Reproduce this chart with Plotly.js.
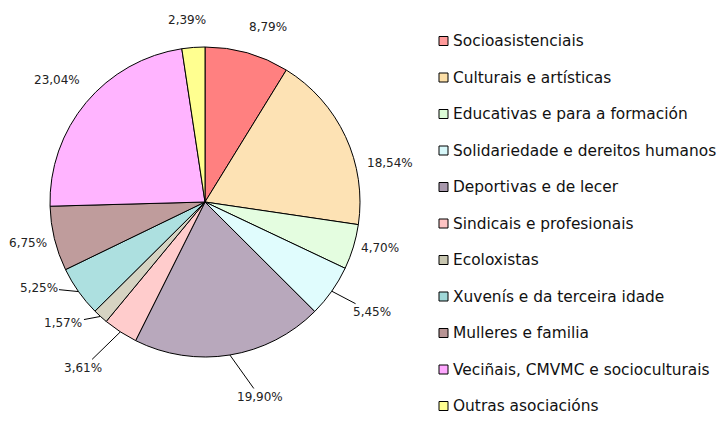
<!DOCTYPE html>
<html>
<head>
<meta charset="utf-8">
<script src="https://cdn.plot.ly/plotly-3.0.1.min.js"></script>
<style>html,body{margin:0;padding:0;background:#fff;}#chart{width:720px;height:421px;}</style>
</head>
<body>
<div id="chart"></div>
<script>
const categories = [
  "Socioasistenciais",
  "Culturais e artísticas",
  "Educativas e para a formación",
  "Solidariedade e dereitos humanos",
  "Deportivas e de lecer",
  "Sindicais e profesionais",
  "Ecoloxistas",
  "Xuvenís e da terceira idade",
  "Mulleres e familia",
  "Veciñais, CMVMC e socioculturais",
  "Outras asociacións"
];
const shares = [8.79, 18.54, 4.70, 5.45, 19.90, 3.61, 1.57, 5.25, 6.75, 23.04, 2.39];

// styling (not data)
const sliceColors = ["#ff8080", "#fde2b4", "#e4fde0", "#e0fcfd", "#b8a8bc", "#ffcccc", "#d6d3c2", "#ade0e0", "#bf9c9c", "#ffb4ff", "#ffff90"];
const legendColors = ["#ff9a9a", "#fde0a8", "#dcfcd6", "#d8f8fa", "#a898ac", "#ffc4c4", "#c8c6b0", "#a0d8d8", "#b89494", "#ffa8ff", "#ffff90"];
// label offsets (px) from the slice's outer mid-point, and whether a leader line is drawn
const labelOffsets = [[21,-26],[44,26],[27,1],[40,21],[30,42],[-37,36],[-37,7],[-40,-4],[-26,4],[-29,-23],[-6,-27]];
const leader = [false,false,false,true,true,true,true,true,false,false,false];

const W = 720, H = 421;
const dom = { x: [50/W, 360/W], y: [1 - 357/H, 1 - 47/H] };

const labelText = shares.map(v => v.toFixed(2).replace('.', ',') + '%');

const trace = {
  type: 'pie',
  labels: categories,
  values: shares,
  textinfo: 'none',
  sort: false,
  direction: 'clockwise',
  rotation: 0,
  marker: { colors: sliceColors, line: { color: '#000', width: 1 } },
  domain: dom,
  automargin: false,
  showlegend: false,
  hoverinfo: 'none'
};

// label anchors derived from the data: slice mid-angle on the pie's rim
const cx = (dom.x[0] + dom.x[1]) / 2, cy = (dom.y[0] + dom.y[1]) / 2;
const rx = (dom.x[1] - dom.x[0]) / 2, ry = (dom.y[1] - dom.y[0]) / 2;
const total = shares.reduce((a, b) => a + b, 0);
let cum = 0;
const annotations = [];
shares.forEach((v, i) => {
  const mid = (cum + v / 2) / total * 2 * Math.PI;
  cum += v;
  const ex = cx + rx * Math.sin(mid), ey = cy + ry * Math.cos(mid);
  const [dx, dy] = labelOffsets[i];
  const a = {
    xref: 'paper', yref: 'paper', x: ex, y: ey,
    text: labelText[i],
    font: { family: 'DejaVu Sans', size: 12, color: '#222' },
    xanchor: 'center', yanchor: 'middle'
  };
  if (leader[i]) {
    Object.assign(a, { showarrow: true, arrowhead: 0, arrowwidth: 1, arrowcolor: '#000', ax: dx, ay: dy, standoff: 0, startstandoff: 0 });
  } else {
    Object.assign(a, { showarrow: false, xshift: dx, yshift: -dy });
  }
  annotations.push(a);
});

const shapes = [];
const legTop = 41, legStep = 36.5;
categories.forEach((c, i) => {
  const yc = legTop + i * legStep;
  shapes.push({
    type: 'rect', xref: 'paper', yref: 'paper',
    x0: 439/W, x1: 448/W, y0: 1 - (yc + 4.5)/H, y1: 1 - (yc - 4.5)/H,
    fillcolor: legendColors[i], line: { color: '#000', width: 1 }
  });
  annotations.push({
    xref: 'paper', yref: 'paper', x: 451/W, y: 1 - yc/H,
    xanchor: 'left', yanchor: 'middle', showarrow: false,
    text: c, font: { family: 'DejaVu Sans', size: 15.4, color: '#111' }
  });
});

const layout = {
  width: W, height: H,
  margin: { l: 0, r: 0, t: 0, b: 0 },
  paper_bgcolor: '#fff', plot_bgcolor: '#fff',
  showlegend: false,
  shapes: shapes,
  annotations: annotations
};

Plotly.newPlot('chart', [trace], layout, { displayModeBar: false, staticPlot: true });
</script>
</body>
</html>
